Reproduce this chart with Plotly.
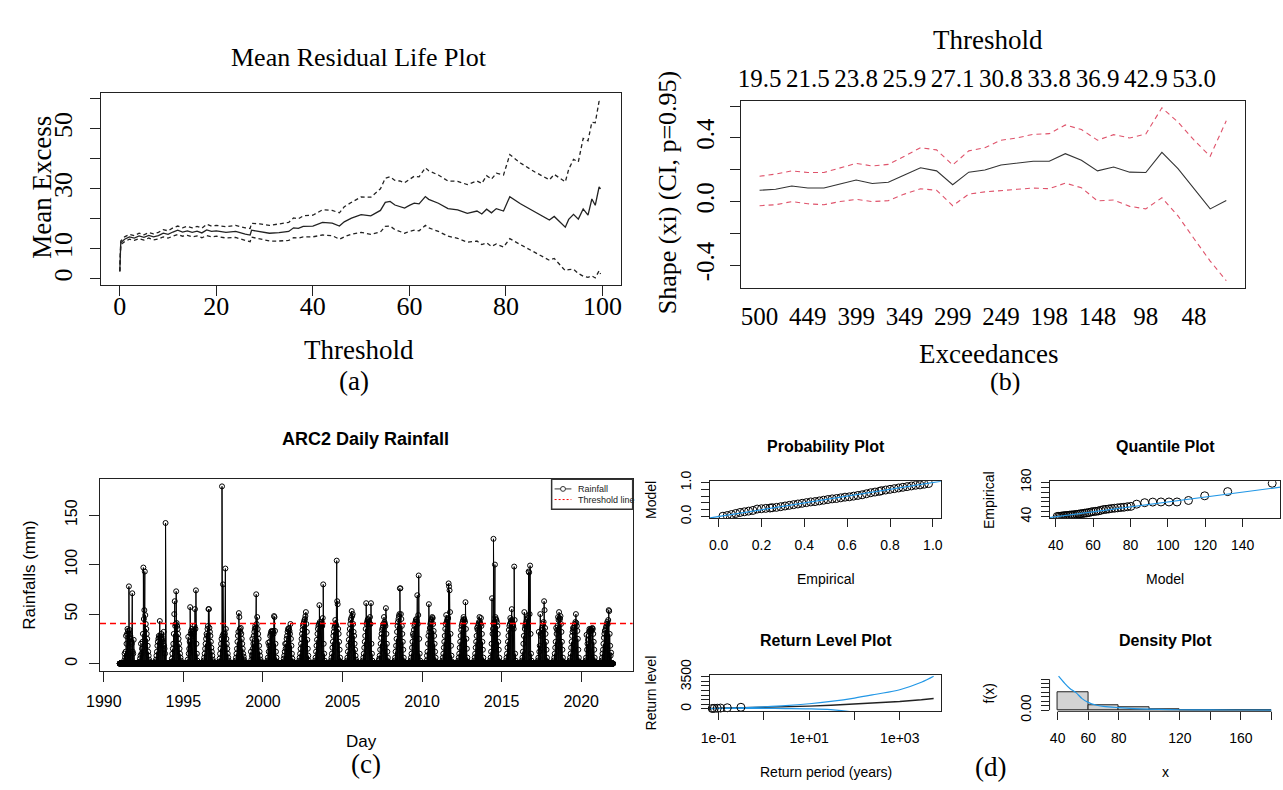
import plotly.graph_objects as go
import pandas as pd

W, H = 1283, 790
SERIF = "Liberation Serif"
SANS = "Liberation Sans"
INK = "#222222"
RED_R = "#DF536B"
BLUE_R = "#2297E6"

# ---------------- (a) Mean residual life ----------------
mrl_threshold = [0, 0.2, 1, 2, 3, 4, 5, 6, 7, 8, 9, 10, 11, 12, 13, 14, 15, 16, 17, 18, 19, 20, 22, 24, 26,
                 27, 27.3, 29, 31, 33, 35, 36, 37, 38, 40, 42, 44, 45.5, 46.5, 48, 50, 52, 54, 55, 56, 57, 58,
                 59, 60, 61, 62, 63.3, 64, 66, 68, 70, 72, 74, 75, 76, 77, 78, 79.5, 80.8, 83, 86, 89, 90,
                 92.3, 93, 94, 95, 96, 97, 97.8, 98.5, 99.3, 99.6]
mrl_mean = [2.5, 12.0, 13.2, 14.0, 13.6, 14.3, 13.8, 14.5, 14.0, 14.4, 15.2, 14.8, 15.6, 16.2, 15.6, 16.0, 15.5,
            15.9, 15.3, 16.3, 15.8, 16.0, 15.5, 15.8, 14.9, 14.6, 16.2, 15.8, 15.2, 15.4, 15.8, 17.0, 16.8, 17.5,
            17.6, 18.8, 18.6, 17.6, 19.0, 20.2, 21.4, 21.0, 22.8, 25.5, 25.8, 24.6, 24.2, 23.6, 24.5, 25.2, 25.0,
            27.4, 26.5, 25.2, 23.4, 23.0, 21.8, 22.6, 21.6, 23.2, 22.0, 23.4, 22.6, 27.4, 25.0, 22.2, 19.6, 20.8,
            17.2, 19.8, 21.5, 19.9, 23.3, 21.2, 26.6, 24.5, 30.6, 30.0]
mrl_upper = [2.6, 12.6, 14.0, 14.8, 14.4, 15.2, 14.7, 15.4, 15.0, 15.5, 16.4, 16.0, 17.0, 17.6, 17.0, 17.5, 17.0,
             17.5, 16.9, 18.2, 17.6, 17.8, 17.4, 17.8, 17.0, 16.8, 18.5, 18.3, 17.8, 18.2, 18.8, 20.3, 20.0, 21.0,
             21.2, 23.0, 22.8, 22.0, 24.0, 25.5, 27.3, 27.2, 30.0, 33.5, 34.0, 32.8, 32.6, 32.0, 33.2, 34.2, 34.0,
             37.0, 36.0, 34.6, 32.6, 32.5, 31.4, 32.6, 31.8, 34.4, 33.2, 35.2, 34.6, 41.4, 38.6, 35.6, 33.0, 34.8,
             32.3, 36.5, 39.8, 39.0, 46.8, 46.0, 52.2, 52.0, 59.2, 58.5]
mrl_lower = [2.4, 11.4, 12.4, 13.2, 12.8, 13.4, 12.9, 13.6, 13.0, 13.3, 14.0, 13.6, 14.2, 14.8, 14.2, 14.5, 14.0,
             14.3, 13.7, 14.4, 14.0, 14.2, 13.6, 13.8, 12.8, 12.4, 13.9, 13.3, 12.6, 12.6, 12.8, 13.7, 13.6, 14.0,
             14.0, 14.6, 14.4, 13.2, 14.0, 14.9, 15.5, 14.8, 15.6, 17.5, 17.6, 16.4, 15.8, 15.2, 15.8, 16.2, 16.0,
             17.8, 17.0, 15.8, 14.2, 13.5, 12.2, 12.6, 11.4, 12.0, 10.8, 11.6, 10.6, 13.4, 11.4, 8.8, 6.2, 6.8,
             2.7, 3.1, 3.2, 1.8, 0.9, 0.5, 1.0, 0.3, 2.7, 1.6]
mrl_xrange = [-3.9, 103.8]
mrl_yrange = [-2.0, 61.8]
mrl_xticks = [0, 20, 40, 60, 80, 100]
mrl_yticks = [0, 10, 20, 30, 40, 50, 60]
mrl_ytext = ["0", "10", "", "30", "", "50", ""]

# ---------------- (b) Shape parameter stability ----------------
xi_index = list(range(1, 31))
xi_est = [0.071, 0.077, 0.098, 0.085, 0.085, 0.112, 0.136, 0.114, 0.122, 0.167, 0.213, 0.193, 0.106, 0.185,
          0.199, 0.230, 0.244, 0.254, 0.254, 0.301, 0.260, 0.193, 0.217, 0.185, 0.183, 0.309, 0.207, 0.080,
          -0.046, 0.006]
xi_upper = [0.159, 0.173, 0.193, 0.183, 0.183, 0.213, 0.240, 0.224, 0.234, 0.285, 0.339, 0.325, 0.230, 0.319,
            0.339, 0.386, 0.400, 0.423, 0.427, 0.482, 0.453, 0.386, 0.421, 0.400, 0.425, 0.590, 0.500, 0.386,
            0.285, 0.508]
xi_lower = [-0.026, -0.020, 0.000, -0.014, -0.020, 0.000, 0.014, 0.000, 0.006, 0.047, 0.081, 0.071, -0.026,
            0.047, 0.061, 0.071, 0.077, 0.085, 0.081, 0.116, 0.087, 0.004, 0.010, -0.030, -0.046, 0.024, -0.090,
            -0.234, -0.374, -0.498]
xi_tick_index = [1, 4, 7, 10, 13, 16, 19, 22, 25, 28]
xi_exceedances = ["500", "449", "399", "349", "299", "249", "198", "148", "98", "48"]
xi_thresholds = ["19.5", "21.5", "23.8", "25.9", "27.1", "30.8", "33.8", "36.9", "42.9", "53.0"]
xi_xrange = [-0.16, 31.16]
xi_yrange = [-0.545, 0.63]
xi_yticks = [-0.4, -0.2, 0.0, 0.2, 0.4, 0.6]
xi_ytext = ["-0.4", "", "0.0", "", "0.4", ""]

# ---------------- (c) ARC2 daily rainfall ----------------
rain_start, rain_end = "1991-01-01", "2021-12-31"
threshold_mm = 40.6
rain_years = list(range(1991, 2022))
season_slot_day = [90, 101, 112, 123, 134, 145, 156, 167, 178, 189, 200, 211, 222, 233, 244, 255, 266, 277,
                   288, 299, 310, 321]
season_rain_mm = [
    [0, 3, 10, 6, 12, 28, 20, 30, 35, 33, 30, 78, 34, 30, 28, 25, 22, 20, 71, 12, 10, 24],
    [2, 5, 8, 20, 10, 15, 22, 30, 97, 45, 54, 93, 49, 40, 35, 30, 25, 18, 12, 8, 4, 2],
    [2, 4, 8, 12, 18, 22, 25, 28, 26, 43, 28, 25, 30, 27, 24, 22, 20, 32, 18, 15, 10, 142],
    [2, 5, 10, 15, 20, 30, 50, 63, 38, 40, 73, 41, 38, 35, 30, 25, 20, 15, 10, 6, 3, 1],
    [1, 4, 27, 10, 15, 22, 57, 30, 33, 30, 35, 32, 28, 30, 33, 38, 55, 35, 74, 20, 10, 3],
    [1, 3, 6, 10, 15, 20, 25, 30, 28, 35, 38, 55, 55, 36, 32, 28, 22, 16, 12, 8, 4, 2],
    [2, 5, 10, 15, 20, 25, 179, 28, 80, 30, 25, 28, 30, 96, 35, 25, 20, 15, 10, 6, 3, 1],
    [1, 3, 6, 10, 15, 22, 28, 32, 51, 47, 35, 32, 36, 30, 25, 20, 15, 10, 7, 4, 2, 1],
    [12, 4, 8, 25, 15, 20, 28, 32, 35, 38, 36, 70, 40, 47, 35, 30, 25, 18, 12, 8, 4, 2],
    [1, 3, 6, 21, 12, 18, 22, 28, 30, 32, 33, 30, 32, 33, 30, 48, 47, 33, 20, 12, 6, 2],
    [1, 2, 5, 8, 12, 20, 15, 20, 25, 28, 32, 35, 34, 36, 33, 30, 40, 25, 18, 10, 5, 2],
    [1, 3, 6, 10, 15, 20, 25, 30, 34, 38, 40, 42, 44, 45, 48, 52, 40, 32, 24, 15, 8, 3],
    [1, 3, 6, 12, 18, 24, 30, 35, 38, 40, 59, 42, 40, 38, 40, 42, 38, 46, 80, 20, 10, 3],
    [1, 3, 6, 10, 16, 22, 28, 32, 36, 38, 44, 40, 38, 104, 63, 60, 35, 30, 22, 14, 6, 2],
    [1, 3, 6, 12, 18, 24, 30, 35, 40, 44, 46, 53, 48, 50, 40, 32, 28, 20, 14, 8, 4, 2],
    [1, 3, 6, 10, 16, 22, 28, 35, 61, 40, 42, 44, 45, 43, 42, 40, 47, 40, 61, 20, 10, 3],
    [1, 3, 5, 8, 14, 20, 26, 30, 34, 36, 38, 40, 47, 42, 40, 38, 56, 30, 20, 12, 6, 2],
    [1, 3, 6, 12, 18, 25, 32, 38, 42, 45, 48, 50, 76, 76, 50, 45, 38, 30, 22, 14, 6, 2],
    [1, 3, 6, 10, 16, 22, 30, 28, 34, 38, 40, 42, 44, 45, 43, 69, 40, 49, 89, 25, 10, 3],
    [1, 3, 8, 12, 20, 28, 60, 32, 36, 40, 42, 44, 45, 47, 46, 40, 33, 28, 20, 12, 6, 2],
    [1, 3, 6, 10, 16, 22, 28, 35, 40, 49, 42, 44, 45, 46, 81, 78, 74, 52, 30, 18, 8, 2],
    [1, 3, 6, 10, 16, 22, 28, 34, 38, 40, 42, 44, 47, 45, 44, 42, 62, 35, 25, 15, 6, 2],
    [1, 3, 6, 10, 16, 22, 28, 36, 34, 38, 40, 42, 47, 42, 40, 46, 38, 30, 22, 14, 6, 2],
    [1, 3, 6, 12, 20, 66, 30, 35, 126, 40, 42, 100, 47, 45, 44, 42, 38, 30, 22, 14, 6, 2],
    [1, 3, 6, 10, 16, 22, 28, 34, 38, 40, 46, 42, 44, 55, 42, 40, 38, 35, 98, 44, 10, 3],
    [1, 3, 6, 12, 20, 28, 52, 35, 38, 40, 42, 44, 45, 46, 48, 93, 92, 50, 99, 30, 10, 3],
    [1, 3, 6, 32, 12, 18, 50, 28, 30, 34, 36, 38, 40, 42, 63, 54, 36, 30, 22, 14, 6, 2],
    [1, 3, 6, 10, 16, 22, 36, 30, 34, 38, 47, 44, 52, 46, 45, 48, 40, 32, 22, 14, 6, 2],
    [1, 3, 6, 10, 16, 22, 28, 32, 36, 34, 36, 38, 40, 42, 50, 41, 38, 33, 25, 14, 6, 2],
    [1, 3, 6, 29, 14, 20, 24, 28, 32, 35, 33, 34, 35, 34, 33, 36, 35, 30, 22, 14, 6, 2],
    [1, 3, 6, 10, 14, 20, 26, 30, 33, 34, 36, 38, 40, 42, 40, 44, 54, 53, 30, 18, 8, 11],
]
rain_xrange = ["1989-10-05", "2023-03-28"]
rain_yrange = [-7.2, 186.2]
rain_yticks = [0, 50, 100, 150]

# ---------------- (d) GPD diagnostics ----------------
pp_empirical = [0.02, 0.04, 0.06, 0.08, 0.10, 0.12, 0.14, 0.16, 0.18, 0.20, 0.22, 0.24, 0.25, 0.27, 0.29, 0.31,
                0.33, 0.35, 0.37, 0.39, 0.41, 0.43, 0.45, 0.47, 0.49, 0.51, 0.53, 0.55, 0.57, 0.59, 0.61, 0.63,
                0.65, 0.67, 0.69, 0.71, 0.73, 0.75, 0.76, 0.78, 0.80, 0.82, 0.84, 0.86, 0.88, 0.90, 0.92, 0.94,
                0.96, 0.98]
pp_model = [0.01, 0.03, 0.06, 0.09, 0.12, 0.14, 0.16, 0.18, 0.22, 0.23, 0.24, 0.25, 0.26, 0.27, 0.29, 0.31,
            0.33, 0.35, 0.37, 0.39, 0.41, 0.43, 0.44, 0.46, 0.48, 0.50, 0.52, 0.53, 0.55, 0.57, 0.58, 0.60,
            0.62, 0.64, 0.67, 0.70, 0.72, 0.74, 0.76, 0.78, 0.80, 0.82, 0.84, 0.86, 0.88, 0.90, 0.92, 0.93,
            0.95, 0.97]
pp_range = [-0.04, 1.04]
pp_ticks = [0.0, 0.2, 0.4, 0.6, 0.8, 1.0]

qq_model = [40.8, 41.6, 42.4, 43.2, 44.0, 44.8, 45.7, 46.6, 47.5, 48.4, 49.3, 50.3, 51.3, 52.3, 53.3, 54.4,
            55.5, 56.6, 57.8, 59.0, 60.2, 61.5, 62.8, 64.1, 65.5, 66.9, 68.4, 69.9, 71.5, 73.1, 74.8, 76.5,
            78.3, 80.2, 83.3, 87.6, 91.9, 96.3, 100.6, 104.9, 111.0, 119.7, 132.0, 155.8]
qq_empirical = [41.0, 41.3, 41.8, 42.5, 43.5, 44.2, 44.8, 45.5, 46.4, 47.0, 47.5, 48.5, 49.5, 50.5, 52.0, 53.0,
                54.5, 55.5, 57.0, 59.5, 61.0, 62.0, 63.5, 66.0, 69.0, 70.0, 71.5, 73.5, 74.5, 76.0, 77.5, 78.5,
                80.5, 82.0, 91.0, 97.0, 99.5, 100.0, 100.0, 100.0, 106.0, 125.0, 142.0, 176.0]
qq_xrange = [36.7, 160.2]
qq_yrange = [35.1, 184.5]
qq_xticks = [40, 60, 80, 100, 120, 140]
qq_yticks = [40, 60, 80, 100, 120, 140, 160, 180]

rl_period_pts = [0.072, 0.080, 0.093, 0.110, 0.155, 0.31]
rl_level_pts = [48, 60, 75, 95, 126, 179]
rl_period = [0.065, 0.1, 0.3, 1, 3, 10, 30, 100, 300, 1000, 3000, 5600]
rl_estimate = [40, 55, 95, 140, 200, 300, 400, 520, 650, 810, 1000, 1140]
rl_upper = [45, 60, 120, 230, 360, 565, 820, 1180, 1600, 2090, 2900, 3550]
rl_lower = [38, 45, 60, 55, 40, 10, -80, -350, -700, -1100, -1500, -1800]
rl_xrange_log = [-1.19, 3.92]
rl_yrange = [-263, 3668]
rl_xticks = [0.1, 1, 10, 100, 1000]
rl_xtext = ["1e-01", "", "1e+01", "", "1e+03"]
rl_yticks = [0, 500, 1000, 1500, 2000, 2500, 3000, 3500]

hist_mid = [50, 70, 90, 110, 130, 150, 170]
hist_density = [0.040, 0.0118, 0.0066, 0.0010, 0.0005, 0.0003, 0.0003]
dens_x = [40.6, 44, 48, 52, 56, 60, 65, 70, 80, 90, 100, 120, 140, 160, 180]
dens_y = [0.0766, 0.063, 0.049, 0.0395, 0.026, 0.0175, 0.0115, 0.0085, 0.0055, 0.0033, 0.002, 0.0008,
          0.0004, 0.0002, 0.0001]
dens_xrange = [34.7, 185.9]
dens_yrange = [-0.0028, 0.0788]
dens_xticks = [40, 60, 80, 100, 120, 140, 160, 180]
dens_xtext = ["40", "60", "80", "", "120", "", "160", ""]
dens_yticks = [0.0, 0.01, 0.02, 0.03, 0.04, 0.05, 0.06, 0.07]


def fx(px):
    return px / W


def fy(py):
    return 1 - py / H


def dom_x(l, r):
    return [fx(l), fx(r)]


def dom_y(t, b):
    return [fy(b), fy(t)]


fig = go.Figure()
nohover = dict(hoverinfo="skip", showlegend=False)

# (a)
fig.add_trace(go.Scatter(x=mrl_threshold, y=mrl_mean, mode="lines", line=dict(color=INK, width=1.3),
                         xaxis="x", yaxis="y", **nohover))
for arr in (mrl_upper, mrl_lower):
    fig.add_trace(go.Scatter(x=mrl_threshold, y=arr, mode="lines",
                             line=dict(color=INK, width=1.3, dash="4px,3px"), xaxis="x", yaxis="y", **nohover))
# label-only overlay axis for (a) x tick labels
fig.add_trace(go.Scatter(x=[mrl_xticks[0]], y=[None], mode="lines", xaxis="x9", yaxis="y", **nohover))

# (b)
fig.add_trace(go.Scatter(x=xi_index, y=xi_est, mode="lines", line=dict(color="#333333", width=1.1),
                         xaxis="x2", yaxis="y2", **nohover))
for arr in (xi_upper, xi_lower):
    fig.add_trace(go.Scatter(x=xi_index, y=arr, mode="lines", line=dict(color=RED_R, width=1.1, dash="5px,4px"),
                             xaxis="x2", yaxis="y2", **nohover))
fig.add_trace(go.Scatter(x=[xi_index[0]], y=[None], mode="lines", xaxis="x3", yaxis="y2", **nohover))

# (c)
dates = pd.date_range(rain_start, rain_end, freq="D")
rain = pd.Series(0.0, index=dates)
for yr, vals in zip(rain_years, season_rain_mm):
    base = pd.Timestamp(year=yr, month=1, day=1)
    for d, v in zip(season_slot_day, vals):
        rain[base + pd.Timedelta(days=d)] = v
fig.add_trace(go.Scatter(x=rain.index, y=rain.values, mode="lines+markers",
                         line=dict(color="black", width=1),
                         marker=dict(symbol="circle-open", size=5, color="black", line=dict(width=1)),
                         xaxis="x4", yaxis="y4", **nohover))

# (d) probability
fig.add_trace(go.Scatter(x=pp_empirical, y=pp_model, mode="markers",
                         marker=dict(symbol="circle-open", size=8, color="black", line=dict(width=1)),
                         xaxis="x5", yaxis="y5", **nohover))
fig.add_trace(go.Scatter(x=pp_range, y=pp_range, mode="lines", line=dict(color=BLUE_R, width=1.2),
                         xaxis="x5", yaxis="y5", **nohover))
# quantile
fig.add_trace(go.Scatter(x=qq_model, y=qq_empirical, mode="markers",
                         marker=dict(symbol="circle-open", size=8, color="black", line=dict(width=1)),
                         xaxis="x6", yaxis="y6", **nohover))
fig.add_trace(go.Scatter(x=qq_xrange, y=qq_xrange, mode="lines", line=dict(color=BLUE_R, width=1.2),
                         xaxis="x6", yaxis="y6", **nohover))
# return level
fig.add_trace(go.Scatter(x=rl_period, y=rl_estimate, mode="lines", line=dict(color=INK, width=1.4),
                         xaxis="x7", yaxis="y7", **nohover))
for arr in (rl_upper, rl_lower):
    fig.add_trace(go.Scatter(x=rl_period, y=arr, mode="lines", line=dict(color=BLUE_R, width=1.2, shape="spline"),
                             xaxis="x7", yaxis="y7", **nohover))
fig.add_trace(go.Scatter(x=rl_period_pts, y=rl_level_pts, mode="markers",
                         marker=dict(symbol="circle-open", size=8, color="black", line=dict(width=1)),
                         xaxis="x7", yaxis="y7", cliponaxis=False, **nohover))
# density
fig.add_trace(go.Bar(x=hist_mid, y=hist_density, width=20, marker=dict(color="#D3D3D3", line=dict(color=INK, width=1)),
                     xaxis="x8", yaxis="y8", **nohover))
fig.add_trace(go.Scatter(x=dens_x, y=dens_y, mode="lines", line=dict(color=BLUE_R, width=1.2, shape="spline"),
                         xaxis="x8", yaxis="y8", cliponaxis=False, **nohover))


def axis(domain, rng, font, size, ticklen=9, box=True, **kw):
    d = dict(domain=domain, range=rng, showgrid=False, zeroline=False, showline=box, mirror=box,
             linecolor=INK, linewidth=1, ticks="outside", ticklen=ticklen, tickcolor=INK, tickwidth=1,
             tickfont=dict(family=font, size=size, color="black"), fixedrange=True)
    d.update(kw)
    return d


lay = dict(
    xaxis=axis(dom_x(88, 614), mrl_xrange, SERIF, 26, ticklen=10, anchor="y", tickvals=mrl_xticks,
               showticklabels=False),
    xaxis9=axis(dom_x(88, 614), mrl_xrange, SERIF, 26, ticklen=0, anchor="y", overlaying="x", side="bottom",
                tickvals=mrl_xticks, ticks="", box=False, ticklabelstandoff=3),
    yaxis=axis(dom_y(80, 278), mrl_yrange, SERIF, 26, ticklen=10, anchor="x", tickvals=mrl_yticks,
               ticktext=mrl_ytext, tickangle=-90, ticklabelstandoff=8),
    xaxis2=axis(dom_x(735.5, 1245.5), xi_xrange, SERIF, 25, anchor="y2", tickvals=xi_tick_index,
                ticktext=xi_exceedances, ticks="", ticklabelstandoff=6),
    xaxis3=axis(dom_x(735.5, 1245.5), xi_xrange, SERIF, 25, anchor="y2", overlaying="x2", side="top",
                tickvals=xi_tick_index, ticktext=xi_thresholds, ticks="", box=False, ticklabelstandoff=8),
    yaxis2=axis(dom_y(88.3, 281.5), xi_yrange, SERIF, 25, ticklen=10, anchor="x2", tickvals=xi_yticks,
                ticktext=xi_ytext, tickangle=-90, ticklabelstandoff=6),
    xaxis4=axis(dom_x(87, 626), rain_xrange, SANS, 16, ticklen=10, anchor="y4", type="date",
                tick0="1990-01-01", dtick="M60", tickformat="%Y", ticklabelstandoff=6),
    yaxis4=axis(dom_y(479, 677), rain_yrange, SANS, 16, ticklen=10, anchor="x4", tickvals=rain_yticks,
                tickangle=-90, ticklabelstandoff=6),
    xaxis5=axis(dom_x(704.3, 938.4), pp_range, SANS, 14, ticklen=8, anchor="y5", tickvals=pp_ticks,
                tickformat=".1f", ticklabelstandoff=6),
    yaxis5=axis(dom_y(481, 519), pp_range, SANS, 14, ticklen=8, anchor="x5", tickvals=pp_ticks,
                ticktext=["0.0", "", "", "", "", "1.0"], tickangle=-90, ticklabelstandoff=4),
    xaxis6=axis(dom_x(1047.8, 1281.4), qq_xrange, SANS, 14, ticklen=8, anchor="y6", tickvals=qq_xticks,
                ticklabelstandoff=6),
    yaxis6=axis(dom_y(481, 519), qq_yrange, SANS, 14, ticklen=8, anchor="x6", tickvals=qq_yticks,
                ticktext=["40", "", "", "", "", "", "", "180"], tickangle=-90, ticklabelstandoff=4),
    xaxis7=axis(dom_x(704.3, 938.4), rl_xrange_log, SANS, 14, ticklen=8, anchor="y7", type="log",
                tickvals=rl_xticks, ticktext=rl_xtext, ticklabelstandoff=6),
    yaxis7=axis(dom_y(681.7, 719), rl_yrange, SANS, 14, ticklen=8, anchor="x7", tickvals=rl_yticks,
                ticktext=["0", "", "", "", "", "", "", "3500"], tickangle=-90, ticklabelstandoff=4),
    xaxis8=axis(dom_x(1047.8, 1281.4), dens_xrange, SANS, 14, ticklen=8, box=False, anchor="y8",
                tickvals=dens_xticks, ticktext=dens_xtext, ticklabelstandoff=6),
    yaxis8=axis(dom_y(681.7, 719), dens_yrange, SANS, 14, ticklen=8, box=False, anchor="x8",
                tickvals=dens_yticks, ticktext=["0.00", "", "", "", "", "", "", ""], tickangle=-90,
                ticklabelstandoff=4),
)

ann = []


def text(t, x, y, family, size, bold=False, angle=0):
    ann.append(dict(text=f"<b>{t}</b>" if bold else t, x=fx(x), y=fy(y), xref="paper", yref="paper",
                    showarrow=False, xanchor="center", yanchor="middle", textangle=angle,
                    font=dict(family=family, size=size, color="black")))


text("Mean Residual Life Plot", 349, 43, SERIF, 26)
text("Threshold", 349, 345, SERIF, 27)
text("(a)", 344, 377, SERIF, 27)
text("Mean Excess", 29, 177, SERIF, 27, angle=-90)

text("Threshold", 986, 25, SERIF, 27)
text("Exceedances", 986, 350, SERIF, 27)
text("(b)", 1003, 378, SERIF, 26)
text("Shape (xi) (CI, p=0.95)", 661, 182, SERIF, 26, angle=-90)

text("ARC2 Daily Rainfall", 356, 437, SANS, 18, bold=True)
text("Day", 352, 750, SANS, 17)
text("(c)", 356, 773, SERIF, 27)
text("Rainfalls (mm)", 16, 578, SANS, 17, angle=-90)

text("Probability Plot", 822, 445, SANS, 16, bold=True)
text("Quantile Plot", 1165, 445, SANS, 16, bold=True)
text("Return Level Plot", 822, 646, SANS, 16, bold=True)
text("Density Plot", 1165, 646, SANS, 16, bold=True)
text("Empirical", 822, 582, SANS, 14)
text("Model", 1165, 582, SANS, 14)
text("Return period (years)", 822, 782, SANS, 14)
text("x", 1165, 782, SANS, 14)
text("Model", 644, 500, SANS, 14, angle=-90)
text("Empirical", 986, 500, SANS, 14, angle=-90)
text("Return level", 644, 700, SANS, 14, angle=-90)
text("f(x)", 987, 700, SANS, 14, angle=-90)
text("(d)", 988, 777, SERIF, 27)

# legend of (c)
text_leg = [("Rainfall", 489), ("Threshold line", 500)]
for t, yy in text_leg:
    ann.append(dict(text=t, x=fx(569), y=fy(yy), xref="paper", yref="paper", showarrow=False,
                    xanchor="left", yanchor="middle", font=dict(family=SANS, size=9, color="#222")))

shapes = [
    dict(type="line", xref="x4 domain", yref="y4", x0=0, x1=1, y0=threshold_mm, y1=threshold_mm,
         line=dict(color="#FF0000", width=1.5, dash="6px,4px"), layer="above"),
    dict(type="rect", xref="paper", yref="paper", x0=fx(544), x1=fx(626), y0=fy(510), y1=fy(479),
         line=dict(color="#333", width=1.5), fillcolor="white", layer="above"),
    dict(type="line", xref="paper", yref="paper", x0=fx(547), x1=fx(564), y0=fy(489), y1=fy(489),
         line=dict(color="#333", width=1), layer="above"),
    dict(type="circle", xref="paper", yref="paper", x0=fx(553), x1=fx(558), y0=fy(491.5), y1=fy(486.5),
         line=dict(color="#333", width=1), fillcolor="white", layer="above"),
    dict(type="line", xref="paper", yref="paper", x0=fx(547), x1=fx(564), y0=fy(500), y1=fy(500),
         line=dict(color="#FF0000", width=1, dash="2px,2px"), layer="above"),
    # density axes lines spanning tick range (R style)
    dict(type="line", xref="x8", yref="y8 domain", x0=dens_xticks[0], x1=dens_xticks[-1], y0=0, y1=0,
         line=dict(color=INK, width=1)),
    dict(type="line", xref="x8 domain", yref="y8", x0=0, x1=0, y0=dens_yticks[0], y1=dens_yticks[-1],
         line=dict(color=INK, width=1)),
]

fig.update_layout(
    width=W, height=H, margin=dict(l=0, r=0, t=0, b=0), paper_bgcolor="white", plot_bgcolor="white",
    showlegend=False, annotations=ann, shapes=shapes, bargap=0, **lay
)

fig.write_html("out.html")
